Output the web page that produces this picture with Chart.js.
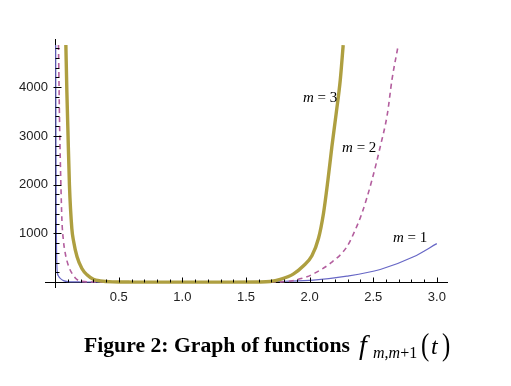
<!DOCTYPE html>
<html>
<head>
<meta charset="utf-8">
<script src="https://cdn.jsdelivr.net/npm/chart.js@4/dist/chart.umd.min.js"></script>
<style>
  html, body { margin: 0; padding: 0; background: #ffffff; }
  #wrap { position: relative; width: 511px; height: 386px; overflow: hidden; }
  #c { position: absolute; left: 0; top: 0; }
  .cap { position: absolute; white-space: nowrap; font-family: "Liberation Serif", "Times New Roman", serif; color: #000; line-height: 1; }
</style>
</head>
<body>
<div id="wrap">
  <canvas id="c" width="511" height="386"></canvas>
  <div class="cap" style="left:84px; top:335px; font-size:21.7px; font-weight:bold;">Figure 2: Graph of functions</div>
  <div class="cap" style="left:359px; top:331px; font-size:28px; font-style:italic;">f</div>
  <div class="cap" style="left:373px; top:345px; font-size:16px;"><i>m</i>,<i>m</i>+1</div>
  <div class="cap" style="left:421px; top:329px; font-size:31px; transform: scaleX(0.8); transform-origin: left;">(</div>
  <div class="cap" style="left:431px; top:334px; font-size:24px; font-style:italic;">t</div>
  <div class="cap" style="left:442px; top:329px; font-size:31px; transform: scaleX(0.8); transform-origin: left;">)</div>
</div>
<script>
// ---- data ----
const seriesNames = ["m = 3", "m = 2", "m = 1"];

const tM3 = [0.084, 0.092, 0.100, 0.112, 0.131, 0.144, 0.172, 0.21, 0.25, 0.30, 0.354, 0.45, 0.60, 1.00, 1.40, 1.60, 1.69, 1.769, 1.874, 1.95, 2.018, 2.07, 2.109, 2.144, 2.175, 2.209, 2.241, 2.264];
const vM3 = [4866, 3900, 3120, 2000, 1100, 850, 520, 280, 150, 60, 25, 5, 1, 0, 1, 3, 12, 55, 170, 330, 540, 900, 1410, 2094, 2778, 3464, 4148, 4866];

const tM2 = [0.026, 0.035, 0.045, 0.053, 0.065, 0.079, 0.105, 0.131, 0.16, 0.20, 0.30, 0.60, 1.00, 1.50, 1.70, 1.82, 1.913, 1.979, 2.03, 2.162, 2.293, 2.358, 2.411, 2.49, 2.555, 2.612, 2.647, 2.697];
const vM2 = [4866, 3200, 2000, 1270, 850, 595, 330, 185, 80, 20, 3, 0, 0, 0, 2, 10, 60, 109, 170, 384, 725, 1068, 1410, 2094, 2778, 3464, 4148, 4866];

const tM1 = [0.004, 0.006, 0.008, 0.011, 0.015, 0.025, 0.04, 0.065, 0.10, 0.20, 0.50, 1.00, 1.50, 1.80, 2.03, 2.293, 2.555, 2.817, 3.00];
const vM1 = [4866, 3000, 1500, 600, 246, 130, 76, 30, 10, 3, 1, 1, 4, 18, 41, 123, 260, 520, 790];

const xTickValues = [0.5, 1.0, 1.5, 2.0, 2.5, 3.0];
const yTickValues = [1000, 2000, 3000, 4000];

const pts = (ts, vs) => ts.map((t, i) => ({ x: t, y: vs[i] }));

// inward Mathematica-style tick marks, placed through the chart scales
const axisTicks = {
  id: 'axisTicks',
  afterDatasetsDraw(chart) {
    const xs = chart.scales.x, ys = chart.scales.y, ctx = chart.ctx;
    const x0 = Math.round(xs.getPixelForValue(0)) + 0.5;
    const y0 = Math.round(ys.getPixelForValue(0)) + 0.5;
    ctx.save();
    ctx.strokeStyle = '#000';
    ctx.lineWidth = 1;
    ctx.beginPath();
    for (let k = 1; k <= 30; k++) {
      const px = Math.round(xs.getPixelForValue(k / 10)) + 0.5;
      const major = k % 5 === 0;
      ctx.moveTo(px, y0);
      ctx.lineTo(px, y0 - (major ? 5 : 3));
    }
    for (let k = 1; k <= 24; k++) {
      const py = Math.round(ys.getPixelForValue(k * 200)) + 0.5;
      const major = k % 5 === 0;
      ctx.moveTo(x0 - (major ? 2 : 0), py);
      ctx.lineTo(x0 + (major ? 6 : 4), py);
    }
    ctx.stroke();
    ctx.restore();
  }
};

// curve labels placed at data coordinates
const curveLabels = {
  id: 'curveLabels',
  afterDatasetsDraw(chart, args, opts) {
    const xs = chart.scales.x, ys = chart.scales.y, ctx = chart.ctx;
    ctx.save();
    ctx.fillStyle = '#000';
    ctx.textBaseline = 'middle';
    opts.items.forEach(it => {
      const px = xs.getPixelForValue(it.x), py = ys.getPixelForValue(it.y);
      ctx.font = 'italic 15px "Liberation Serif", serif';
      const mW = ctx.measureText('m').width;
      ctx.font = '15px "Liberation Serif", serif';
      const rest = ' = ' + it.n;
      const rW = ctx.measureText(rest).width;
      const left = px - (mW + rW) / 2;
      ctx.font = 'italic 15px "Liberation Serif", serif';
      ctx.fillText('m', left, py);
      ctx.font = '15px "Liberation Serif", serif';
      ctx.fillText(rest, left + mW, py);
    });
    ctx.restore();
  }
};

new Chart(document.getElementById('c'), {
  type: 'line',
  data: {
    datasets: [
      { label: seriesNames[0], data: pts(tM3, vM3), borderColor: '#ae9f40', borderWidth: 3.4, pointRadius: 0, fill: false, cubicInterpolationMode: 'monotone' },
      { label: seriesNames[1], data: pts(tM2, vM2), borderColor: '#b35e9e', borderWidth: 1.6, borderDash: [5, 4], pointRadius: 0, fill: false, cubicInterpolationMode: 'monotone' },
      { label: seriesNames[2], data: pts(tM1, vM1), borderColor: '#6767c6', borderWidth: 1.2, pointRadius: 0, fill: false, cubicInterpolationMode: 'monotone' }
    ]
  },
  options: {
    responsive: false,
    animation: false,
    devicePixelRatio: 1,
    layout: { padding: { left: 45, right: 64, top: 39, bottom: 99 } },
    plugins: {
      legend: { display: false },
      tooltip: { enabled: false },
      curveLabels: { items: [ { x: 2.083, y: 3778, n: 3 }, { x: 2.39, y: 2751, n: 2 }, { x: 2.79, y: 903, n: 1 } ] }
    },
    scales: {
      x: {
        type: 'linear', min: -0.08, max: 3.08,
        position: { y: 0 },
        afterBuildTicks: s => { s.ticks = xTickValues.map(v => ({ value: v })); },
        grid: { display: true, drawOnChartArea: false, drawTicks: false },
        border: { display: true, color: '#000', width: 1 },
        ticks: { padding: 7, color: '#222', font: { family: '"Liberation Sans", Arial, sans-serif', size: 13 }, maxRotation: 0, callback: v => Number(v).toFixed(1) }
      },
      y: {
        type: 'linear', min: -100, max: 4990,
        position: { x: 0 },
        afterBuildTicks: s => { s.ticks = yTickValues.map(v => ({ value: v })); },
        grid: { display: true, drawOnChartArea: false, drawTicks: false },
        border: { display: true, color: '#000', width: 1 },
        ticks: { padding: 6, color: '#222', font: { family: '"Liberation Sans", Arial, sans-serif', size: 13 }, callback: v => String(v) + '  ' }
      }
    }
  },
  plugins: [axisTicks, curveLabels]
});
</script>
</body>
</html>
